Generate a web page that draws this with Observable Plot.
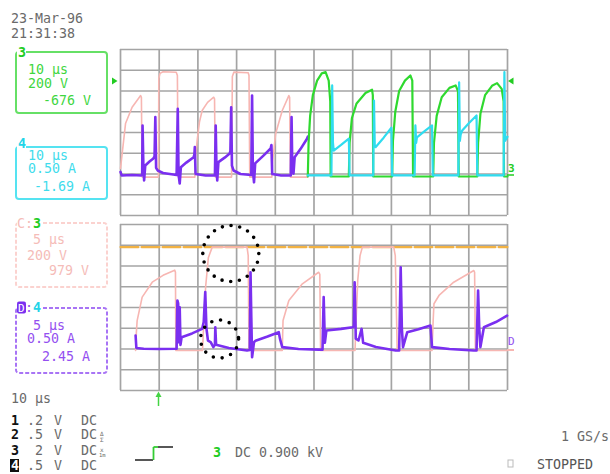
<!DOCTYPE html>
<html><head><meta charset="utf-8">
<script src="https://cdn.jsdelivr.net/npm/d3@7"></script>
<script src="https://cdn.jsdelivr.net/npm/@observablehq/plot@0.6"></script>
<style>
body{margin:0;background:#fff;}
#wrap{position:relative;width:610px;height:474px;overflow:hidden;}
#wrap svg{position:absolute;left:0;top:0;}
</style></head><body><div id="wrap"></div>
<script>
// ---- Data (x in horizontal divisions 0..10, y in vertical divisions 0..8 of each panel) ----
const divX = [0,1,2,3,4,5,6,7,8,9,10];
const divY = [0,1,2,3,4,5,6,7,8];

// Upper panel (10 µs/div)
const pinkTop = [[0,2.27],[0.13,4.43],[0.30,5.22],[0.45,5.6],[0.52,5.78],[0.54,5.7],[0.56,1.85],
 [0.98,1.85],[0.99,6.6],[1.02,6.85],[1.10,6.93],[1.44,6.9],[1.47,6.75],[1.49,1.85],
 [1.92,1.85],[1.94,2.8],[1.98,3.61],[2.04,4.5],[2.11,5.06],[2.25,5.45],[2.41,5.70],[2.43,5.62],[2.45,1.85],
 [2.87,1.85],[2.89,6.7],[2.93,6.91],[3.30,6.88],[3.32,6.75],[3.34,1.85],
 [3.91,1.85],[3.93,2.6],[4.01,3.95],[4.18,5.06],[4.35,5.78],[4.37,5.7],[4.39,1.85],[4.84,1.85]];
const purpleTop = [[0,2.1],[0.03,1.93],[0.30,1.95],[0.54,1.93],[0.56,1.95],[0.57,4.34],[0.59,2.5],[0.61,1.69],[0.64,2.41],[0.75,2.6],[0.85,2.75],[0.88,2.85],[0.90,4.74],[0.92,2.3],[0.96,2.17],[1.10,2.05],[1.45,1.95],
 [1.48,5.14],[1.50,2.0],[1.53,1.54],[1.56,2.33],[1.70,2.55],[1.89,2.81],[1.91,2.95],[1.92,3.3],[1.94,2.0],[2.20,1.93],[2.44,1.93],
 [2.46,4.34],[2.48,2.3],[2.50,1.69],[2.53,2.57],[2.70,2.8],[2.82,2.99],[2.84,3.1],[2.86,5.22],[2.88,2.4],[2.92,2.17],[3.10,2.0],[3.38,1.95],
 [3.40,5.78],[3.42,2.2],[3.45,1.6],[3.48,2.51],[3.70,2.9],[3.88,3.23],[3.90,3.4],[3.92,2.0],[4.15,1.93],[4.40,1.93],
 [4.42,4.74],[4.44,2.2],[4.47,2.02],[4.50,2.81],[4.65,3.2],[4.82,3.70],[4.84,3.8]];
const greenTop = [[4.84,1.88],[4.86,3.5],[4.90,4.8],[4.97,5.8],[5.08,6.5],[5.20,6.85],[5.30,6.91],[5.38,6.5],[5.42,5.5],[5.43,1.88],
 [5.90,1.88],[5.92,3.5],[5.98,4.7],[6.10,5.4],[6.33,5.9],[6.50,6.06],[6.52,5.8],[6.53,1.88],
 [7.02,1.88],[7.04,3.6],[7.10,5.0],[7.20,6.0],[7.35,6.5],[7.49,6.75],[7.54,6.5],[7.56,1.88],
 [8.08,1.88],[8.10,3.5],[8.17,4.8],[8.30,5.7],[8.50,6.15],[8.66,6.27],[8.72,6.0],[8.74,1.88],
 [9.22,1.88],[9.24,3.5],[9.30,4.9],[9.42,5.8],[9.60,6.25],[9.73,6.38],[9.85,6.1],[9.90,5.5],[9.91,1.88],[10,1.88]];
const cyanTop = [[4.84,1.93],[5.45,1.93],[5.47,6.27],[5.49,3.5],[5.51,3.13],[5.70,3.4],[5.90,3.70],[5.92,1.93],
 [6.53,1.93],[6.55,5.54],[6.57,3.4],[6.59,3.29],[6.80,3.75],[7.00,4.23],[7.02,1.93],
 [7.60,1.93],[7.62,4.34],[7.64,3.5],[7.66,3.77],[7.85,4.05],[8.05,4.34],[8.07,1.93],
 [8.73,1.93],[8.75,6.42],[8.77,3.6],[8.79,3.9],[8.83,4.1],[9.0,4.45],[9.20,4.82],[9.22,1.93],
 [9.90,1.93],[9.92,6.91],[9.94,3.6],[10,3.8]];

// Lower panel (5 µs/div)
const orangeRef = [[0,6.91],[10,6.91]];
const pinkBottom = [[0.39,1.93],[0.41,2.8],[0.43,3.37],[0.56,4.50],[0.82,5.22],[1.10,5.55],[1.40,5.80],[1.42,5.7],[1.43,1.93],
 [2.12,1.93],[2.15,3.2],[2.20,5.0],[2.27,6.4],[2.37,6.91],[3.27,6.91],[3.30,6.5],[3.32,1.93],
 [4.18,1.93],[4.20,3.37],[4.35,4.34],[4.70,5.14],[5.12,5.70],[5.15,5.6],[5.17,1.93],
 [6.06,1.93],[6.09,3.5],[6.13,5.3],[6.19,6.5],[6.25,6.91],[7.06,6.91],[7.10,6.5],[7.15,1.93],
 [8.05,1.93],[8.08,3.4],[8.10,4.18],[8.23,4.58],[8.61,5.22],[9.13,5.78],[9.15,5.7],[9.17,1.93],[10,1.93]];
const purpleBottom = [[0.39,2.65],[0.41,2.05],[0.60,2.01],[1.00,2.0],[1.45,2.01],[1.47,4.34],[1.49,4.2],[1.51,2.33],[1.53,4.01],[1.55,2.2],[1.58,2.57],[1.85,2.75],[2.11,2.97],[2.15,3.3],[2.19,4.74],[2.22,3.0],[2.26,2.4],[2.33,2.33],[2.40,2.09],[2.44,2.2],[2.45,3.05],[2.47,2.2],[2.80,2.05],[3.27,1.93],
 [3.34,1.95],[3.36,5.70],[3.38,3.5],[3.40,1.60],[3.45,2.33],[3.49,2.4],[3.80,2.6],[4.09,2.81],[4.12,2.5],[4.18,2.09],[4.60,2.0],[5.12,1.97],[5.22,1.97],
 [5.25,4.50],[5.28,2.3],[5.32,2.89],[5.70,2.97],[6.00,3.05],[6.03,3.1],[6.05,5.22],[6.08,2.5],[6.15,2.41],[6.23,2.97],[6.27,2.3],[6.60,2.1],[7.11,1.93],[7.20,1.93],
 [7.24,5.94],[7.27,3.0],[7.30,2.09],[7.41,2.81],[7.70,2.95],[8.01,3.13],[8.05,2.09],[8.50,2.0],[9.13,1.93],[9.20,1.93],
 [9.24,4.82],[9.27,3.0],[9.30,2.09],[9.39,3.05],[9.70,3.3],[9.99,3.61]];
const bigCircle = [[2.85,6.60]];
const smallCircle = [[2.56,2.48]];

// ---- Styling ----
const GAP = 0.434, TOP = 8 + GAP;
const GRID = "#a4a4a4", PINK = "#f7b6b2", PURPLE = "#7a2ff0", GREEN = "#2fd92f", CYAN = "#2fdcef", ORANGE = "#f2b243";
const up = a => a.map(([x, v]) => ({x, y: v + TOP}));
const lo = a => a.map(([x, v]) => ({x, y: v}));
const ln = (a, stroke, w, extra = {}) => Plot.line(a, {x: "x", y: "y", stroke, strokeWidth: w, strokeLinejoin: "round", ...extra});

const chart = Plot.plot({
  width: 610, height: 474,
  marginLeft: 120, marginRight: 103, marginTop: 49, marginBottom: 84,
  x: {domain: [0, 10], axis: null},
  y: {domain: [0, 16 + GAP], axis: null},
  style: {background: "transparent", overflow: "visible"},
  marks: [
    Plot.ruleX(divX, {x: d => d, y1: 0, y2: 8, stroke: GRID, strokeWidth: 1.7}),
    Plot.ruleX(divX, {x: d => d, y1: TOP, y2: TOP + 8, stroke: GRID, strokeWidth: 1.7}),
    Plot.ruleY(divY, {y: d => d, x1: 0, x2: 10, stroke: GRID, strokeWidth: 1.7}),
    Plot.ruleY(divY, {y: d => d + TOP, x1: 0, x2: 10, stroke: GRID, strokeWidth: 1.7}),
    ln(up(pinkTop), PINK, 1.6),
    ln(up(purpleTop), PURPLE, 2.6),
    ln(up(greenTop), GREEN, 2.2),
    ln(up(cyanTop), CYAN, 2.2),
    ln(lo(orangeRef), ORANGE, 2.2, {strokeDasharray: "18 3"}),
    ln(lo(pinkBottom), PINK, 1.6),
    ln(lo(purpleBottom), PURPLE, 2.6),
    Plot.dot(lo(bigCircle), {x: "x", y: "y", r: 28, fill: "none", stroke: "black", strokeWidth: 3.6, strokeDasharray: "0 8.8", strokeLinecap: "round"}),
    Plot.dot(lo(smallCircle), {x: "x", y: "y", r: 19, fill: "none", stroke: "black", strokeWidth: 3.6, strokeDasharray: "0 9", strokeLinecap: "round"})
  ]
});
document.getElementById("wrap").appendChild(chart);

// ---- Screen annotations (scope readouts) ----
const svg = d3.select(chart);
const g = svg.append("g").attr("font-family", "'DejaVu Sans Mono', monospace").attr("font-size", 13.3).attr("text-anchor", "start");
const T = (s, x, cy, fill, o = {}) => {
  const t = g.append("text").attr("x", x).attr("y", cy + 4.8).attr("fill", fill).attr("text-anchor", "start").text(s);
  if (o.bold) t.attr("font-weight", "bold");
  if (o.size) t.attr("font-size", o.size);
  return t;
};
const GRAY = "#6a6a6a";
T("23-Mar-96", 11, 18, GRAY);
T("21:31:38", 11, 33, GRAY);

// channel boxes
const box = (y, h, stroke, dashed) => g.append("rect").attr("x", 16).attr("y", y).attr("width", 91).attr("height", h)
  .attr("rx", 3).attr("fill", "none").attr("stroke", stroke).attr("stroke-width", 2)
  .attr("stroke-dasharray", dashed ? "4 2" : null);
box(52, 61, "#66e066", false);
box(147, 52, "#55e3f1", false);
box(223, 64, "#fbd2cf", true);
box(308, 65, "#a874f5", true);

const TG = "#3fd63f", TC = "#3fdcec", TP = "#f5bcb8", TV = "#9450f0";
g.append("rect").attr("x", 17).attr("y", 46).attr("width", 9).attr("height", 13).attr("fill", "#fff");
T("3", 18, 52.5, "#22cc22", {bold: true});
T("10 μs", 28, 69.5, TG); T("200 V", 28, 83, TG); T("-676 V", 43, 100, TG);

g.append("rect").attr("x", 17).attr("y", 137).attr("width", 9).attr("height", 13).attr("fill", "#fff");
T("4", 18, 143, "#22d4e8", {bold: true});
T("10 μs", 28, 155, TC); T("0.50 A", 28, 168.5, TC); T("-1.69 A", 34, 186, TC);

g.append("rect").attr("x", 17).attr("y", 216).attr("width", 24).attr("height", 13).attr("fill", "#fff");
T("C:", 17, 223, TP); T("3", 33, 223, "#22cc22", {bold: true});
T("5 μs", 33, 239, TP); T("200 V", 27, 255, TP); T("979 V", 49, 270.5, TP);

g.append("rect").attr("x", 17).attr("y", 301).attr("width", 24).attr("height", 13).attr("fill", "#fff");
g.append("rect").attr("x", 17).attr("y", 301.5).attr("width", 9).attr("height", 12).attr("rx", 2).attr("fill", "#7a2ff0");
T("D", 18, 307.5, "#fff", {size: 11});
T(":", 25, 307.5, TV); T("4", 33, 307.5, "#22d4e8", {bold: true});
T("5 μs", 33, 325, TV); T("0.50 A", 27, 338.5, TV); T("2.45 A", 42, 356, TV);

// side markers
g.append("polygon").attr("points", "112,77.5 112,84.5 117.5,81").attr("fill", "#22cc22");
g.append("polygon").attr("points", "513.5,77.5 513.5,84.5 508,81").attr("fill", "#22cc22");
T("3", 508, 167, "#22cc22", {size: 11, bold: true});
g.append("line").attr("x1", 507).attr("x2", 514).attr("y1", 175).attr("y2", 175).attr("stroke", "#22cc22").attr("stroke-width", 1.5);
T("D", 508, 340, TV, {size: 11});
g.append("line").attr("x1", 507).attr("x2", 514).attr("y1", 350).attr("y2", 350).attr("stroke", PINK).attr("stroke-width", 2);

// trigger position arrow
g.append("line").attr("x1", 158.5).attr("x2", 158.5).attr("y1", 406).attr("y2", 394).attr("stroke", "#44d444").attr("stroke-width", 1.5);
g.append("polygon").attr("points", "155.5,397 161.5,397 158.5,391.5").attr("fill", "#44d444");

// bottom readouts
T("10 μs", 11, 398, GRAY);
const rows = [["1", ".2", 420], ["2", ".5", 434.5], ["3", "2", 450], ["4", ".5", 465]];
rows.forEach(([ch, v, cy]) => {
  if (ch === "4") {
    g.append("rect").attr("x", 10).attr("y", cy - 6).attr("width", 9).attr("height", 13).attr("fill", "#111");
    T(ch, 11, cy, "#fff", {bold: true});
  } else T(ch, 11, cy, "#111", {bold: true});
  T(v, v.length === 1 ? 35 : 27, cy, GRAY);
  T("V", 54, cy, GRAY);
  T("DC", 81, cy, GRAY);
});
T("Δ", 100, 431.5, GRAY, {size: 6}); T("Σ", 100, 437, GRAY, {size: 6});
T("x", 100, 447, GRAY, {size: 6}); T("1m", 99, 452.5, GRAY, {size: 5.5});

// trigger slope symbol
const L = (x1, y1, x2, y2, c) => g.append("line").attr("x1", x1).attr("y1", y1).attr("x2", x2).attr("y2", y2).attr("stroke", c).attr("stroke-width", 1.8);
L(135, 460, 153, 460, "#444"); L(153.5, 460, 153.5, 447, "#33cc33"); L(153.5, 447, 158, 447, "#33cc33"); L(158, 447, 173, 447, "#444");
T("3", 213, 452, "#22cc22", {bold: true});
T("DC 0.900 kV", 235, 452, GRAY);

T("1 GS/s", 561, 436, GRAY);
g.append("rect").attr("x", 508).attr("y", 460).attr("width", 5).attr("height", 7).attr("fill", "none").attr("stroke", "#bbb");
T("STOPPED", 537, 464, "#555");
</script>
</body></html>
